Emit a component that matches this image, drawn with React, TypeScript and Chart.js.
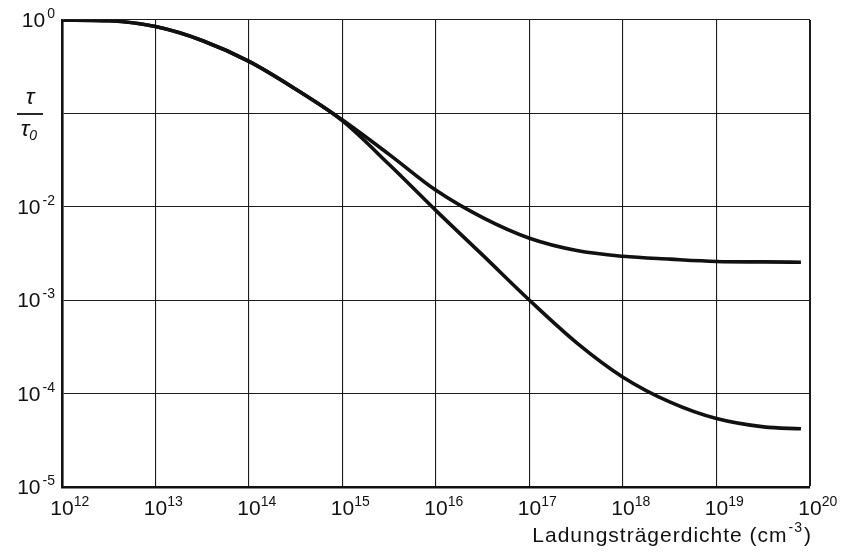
import React, { useEffect, useRef } from "react";
import { Chart, registerables } from "chart.js";

Chart.register(...registerables);

// Carrier density (cm^-3), half-decade steps
const densities = [
  1e12, 3.2e12, 1e13, 3.2e13, 1e14, 3.2e14, 1e15, 3.2e15,
  1e16, 3.2e16, 1e17, 3.2e17, 1e18, 3.2e18, 1e19, 3.2e19, 8e19,
];

// Relative lifetime tau/tau0, curve levelling off near 2.6e-3
const tauUpper = [
  1.0, 0.98, 0.85, 0.6, 0.36, 0.18, 0.085, 0.036,
  0.015, 0.0076, 0.0046, 0.0034, 0.00295, 0.00275, 0.0026, 0.00257, 0.00255,
];

// Relative lifetime tau/tau0, curve levelling off near 4e-5
const tauLower = [
  1.0, 0.98, 0.85, 0.6, 0.36, 0.18, 0.083, 0.028,
  0.0091, 0.003, 0.001, 0.00035, 0.00015, 0.000081, 0.000054, 0.000044, 0.000042,
];

// Decade exponents for grid lines and tick labels
const xExponents = [12, 13, 14, 15, 16, 17, 18, 19, 20];
const yExponents = [0, -1, -2, -3, -4, -5];
const yLabelExponents = [0, -2, -3, -4, -5];

const xTitle = "Ladungsträgerdichte (cm";
const xTitleUnitPower = "-3";
const yTitleSymbol = "τ";
const yTitleSub = "0";

const FONT = '"Liberation Sans", Arial, sans-serif';
const INK = "#111";

const powerLabels = {
  id: "powerLabels",
  afterDraw(chart: any) {
    const ctx: CanvasRenderingContext2D = chart.ctx;
    const xs = chart.scales.x;
    const ys = chart.scales.y;
    ctx.save();
    ctx.fillStyle = INK;
    ctx.strokeStyle = INK;
    ctx.textBaseline = "alphabetic";
    ctx.textAlign = "left";

    // x tick labels: 10 with raised exponent
    for (const e of xExponents) {
      const px = xs.getPixelForValue(10 ** e);
      ctx.font = `21px ${FONT}`;
      const wb = ctx.measureText("10").width;
      ctx.fillText("10", px - wb / 2, 515);
      ctx.font = `14px ${FONT}`;
      ctx.fillText(String(e), px + wb / 2, 506);
    }

    // y tick labels, right-aligned beside the axis
    for (const e of yLabelExponents) {
      const py = ys.getPixelForValue(10 ** e);
      const sup = e === 0 ? "0" : "-" + String(-e);
      ctx.font = `14px ${FONT}`;
      const ws = ctx.measureText(sup).width;
      ctx.font = `21px ${FONT}`;
      const wb = ctx.measureText("10").width;
      const right = 55;
      ctx.fillText("10", right - ws - 2 - wb, py + 7);
      ctx.font = `14px ${FONT}`;
      ctx.fillText(sup, right - ws, py - 2);
    }

    // y title: tau / tau0 fraction
    ctx.font = `italic 23px ${FONT}`;
    const wt = ctx.measureText(yTitleSymbol).width;
    ctx.fillText(yTitleSymbol, 30 - wt / 2, 104);
    ctx.lineWidth = 1.8;
    ctx.beginPath();
    ctx.moveTo(17, 114);
    ctx.lineTo(43, 114);
    ctx.stroke();
    ctx.fillText(yTitleSymbol, 25 - wt / 2, 136);
    ctx.font = `italic 14px ${FONT}`;
    ctx.fillText(yTitleSub, 25 + wt / 2, 140);

    // x title with unit exponent, right-aligned to the plot edge
    (ctx as any).letterSpacing = "1px";
    ctx.font = `21px ${FONT}`;
    const w1 = ctx.measureText(xTitle).width;
    const w3 = ctx.measureText(")").width;
    ctx.font = `14px ${FONT}`;
    const w2 = ctx.measureText(xTitleUnitPower).width;
    const end = 812;
    const start = end - w1 - w2 - w3 - 2;
    ctx.font = `21px ${FONT}`;
    ctx.fillText(xTitle, start, 542);
    ctx.font = `14px ${FONT}`;
    ctx.fillText(xTitleUnitPower, start + w1 + 1, 532);
    ctx.font = `21px ${FONT}`;
    ctx.fillText(")", start + w1 + w2 + 2, 542);
    ctx.restore();
  },
};

export default function App() {
  const canvasRef = useRef<HTMLCanvasElement | null>(null);

  useEffect(() => {
    document.body.style.margin = "0";
    const canvas = canvasRef.current;
    if (!canvas) return;

    const toPoints = (ys: number[]) => densities.map((x, i) => ({ x, y: ys[i] }));
    const lineStyle = {
      borderColor: INK,
      borderWidth: 3.6,
      pointRadius: 0,
      fill: false,
      cubicInterpolationMode: "monotone" as const,
    };

    const decadeTicks = (exps: number[]) => (scale: any) => {
      scale.ticks = exps.map((e) => ({ value: 10 ** e }));
    };

    const chart = new Chart(canvas, {
      type: "line",
      data: {
        datasets: [
          { label: "upper", data: toPoints(tauUpper), ...lineStyle },
          { label: "lower", data: toPoints(tauLower), ...lineStyle },
        ],
      },
      options: {
        animation: false,
        responsive: false,
        devicePixelRatio: 1,
        layout: { padding: { left: 62, right: 32, top: 20, bottom: 69 } },
        plugins: { legend: { display: false }, tooltip: { enabled: false } },
        scales: {
          x: {
            type: "logarithmic",
            min: 1e12,
            max: 1e20,
            afterBuildTicks: decadeTicks(xExponents),
            ticks: { display: false },
            grid: {
              drawTicks: false,
              color: "#1c1c1c",
              lineWidth: (c: any) => (c.tick && c.tick.value >= 1e20 ? 2 : 1.1),
            },
            border: { display: true, width: 2.6, color: INK },
          },
          y: {
            type: "logarithmic",
            min: 1e-5,
            max: 1,
            afterBuildTicks: decadeTicks(yExponents),
            ticks: { display: false },
            grid: {
              drawTicks: false,
              color: "#1c1c1c",
              lineWidth: 1.1,
            },
            border: { display: true, width: 2.6, color: INK },
          },
        },
      },
      plugins: [powerLabels],
    });

    return () => chart.destroy();
  }, []);

  return (
    <div style={{ width: 842, height: 556, background: "#fff" }}>
      <canvas ref={canvasRef} width={842} height={556} />
    </div>
  );
}
